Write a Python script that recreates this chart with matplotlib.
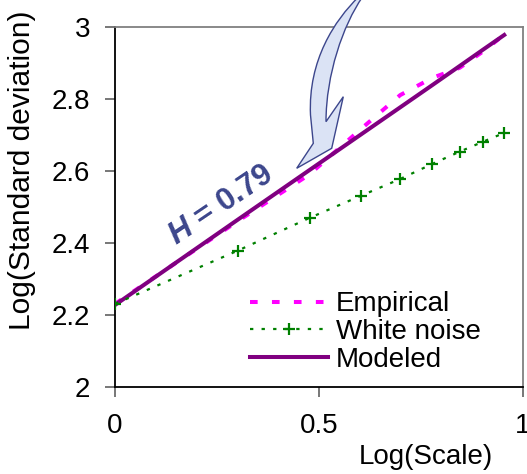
import numpy as np
import matplotlib
matplotlib.use("Agg")
import matplotlib.pyplot as plt
from matplotlib.path import Path
from matplotlib.patches import PathPatch
from matplotlib.transforms import Affine2D

plt.rcParams['font.family'] = ['Liberation Sans', 'DejaVu Sans']
plt.rcParams['mathtext.fontset'] = 'custom'
plt.rcParams['mathtext.it'] = 'Liberation Sans:italic:bold'
plt.rcParams['mathtext.rm'] = 'Liberation Sans:bold'

# ---- data ----
log_scale = [0.0, 0.301, 0.477, 0.602, 0.699, 0.778, 0.845, 0.903, 0.954]
empirical = [2.230, 2.460, 2.590, 2.715, 2.810, 2.858, 2.886, 2.932, 2.978]
white_noise = [2.230, 2.378, 2.469, 2.530, 2.577, 2.619, 2.653, 2.681, 2.705]
modeled = [2.227, 2.464, 2.602, 2.700, 2.776, 2.838, 2.891, 2.937, 2.977]
series_labels = ["Empirical", "White noise", "Modeled"]
x_ticks = [0, 0.5, 1]
x_ticklabels = ["0", "0.5", "1"]
y_ticks = [2, 2.2, 2.4, 2.6, 2.8, 3]
y_ticklabels = ["2", "2.2", "2.4", "2.6", "2.8", "3"]
annotation = r"$H$ = 0.79"

W, H = 527, 474
fig = plt.figure(figsize=(W / 100, H / 100), dpi=100)
ax = fig.add_axes([115 / W, 1 - 386.7 / H, 408 / W, 360 / H])

ax.plot(log_scale, empirical, color='#ff00ff', lw=2.9, linestyle=(0, (1.9, 3.55)),
        dash_capstyle='butt', label=series_labels[0], zorder=2)
ax.plot(log_scale, white_noise, color='#008000', lw=1.6, linestyle=(0, (1.5, 3.7)),
        marker='+', markersize=8, markeredgewidth=1.6, label=series_labels[1], zorder=4)
ax.plot(log_scale, modeled, color='#800080', lw=2.9, label=series_labels[2], zorder=3)

ax.set_xlim(0, 1)
ax.set_ylim(2, 3)
ax.set_xticks(x_ticks)
ax.set_xticklabels(x_ticklabels)
ax.set_yticks(y_ticks)
ax.set_yticklabels(y_ticklabels)
ax.tick_params(axis='both', labelsize=20, length=7, width=1.2, color='#606060',
               direction='out')
ax.tick_params(axis='y', pad=11)
ax.tick_params(axis='x', pad=12)
ax.spines['left'].set_color('black')
ax.spines['bottom'].set_color('black')
ax.spines['top'].set_color('#808080')
ax.spines['right'].set_color('#808080')
for s in ax.spines.values():
    s.set_linewidth(1.3)

ax.set_ylabel("Log(Standard deviation)", fontsize=21.5)
ax.yaxis.set_label_coords(-0.194, 0.6)
ax.set_xlabel("Log(Scale)", fontsize=20)
ax.xaxis.set_label_coords(0.761, -0.159)

leg = ax.legend(loc='center left', bbox_to_anchor=(0.331, 0.152), frameon=False,
                fontsize=20, handlelength=2.8, handletextpad=0.3, labelspacing=0.06,
                borderpad=0, borderaxespad=0)

# ---- annotation (pixel coordinates, origin top-left) ----
pix = Affine2D().scale(1 / W, -1 / H).translate(0, 1) + fig.transFigure

verts = [
    (362.5, -3), (343, 25), (326, 75), (326, 121.7),
    (343.3, 96.7), (331.7, 148.3), (296.7, 168.3), (313.3, 143.3),
    (310.5, 115), (308, 60), (335, 20), (358.5, -3),
    (362.5, -3),
]
codes = [Path.MOVETO, Path.CURVE4, Path.CURVE4, Path.CURVE4,
         Path.LINETO, Path.LINETO, Path.LINETO, Path.LINETO,
         Path.LINETO, Path.CURVE4, Path.CURVE4, Path.CURVE4,
         Path.CLOSEPOLY]
arrow = PathPatch(Path(verts, codes), facecolor='#dbe3f5', edgecolor='#3c468c',
                  lw=1.0, transform=pix, zorder=10, clip_on=False)
fig.patches.append(arrow)

fig.text(221, 205, annotation, transform=pix, fontsize=22.5, fontweight='bold',
         color='#3c468c', rotation=34, rotation_mode='anchor',
         ha='center', va='center')

fig.savefig("out.png", dpi=100)
